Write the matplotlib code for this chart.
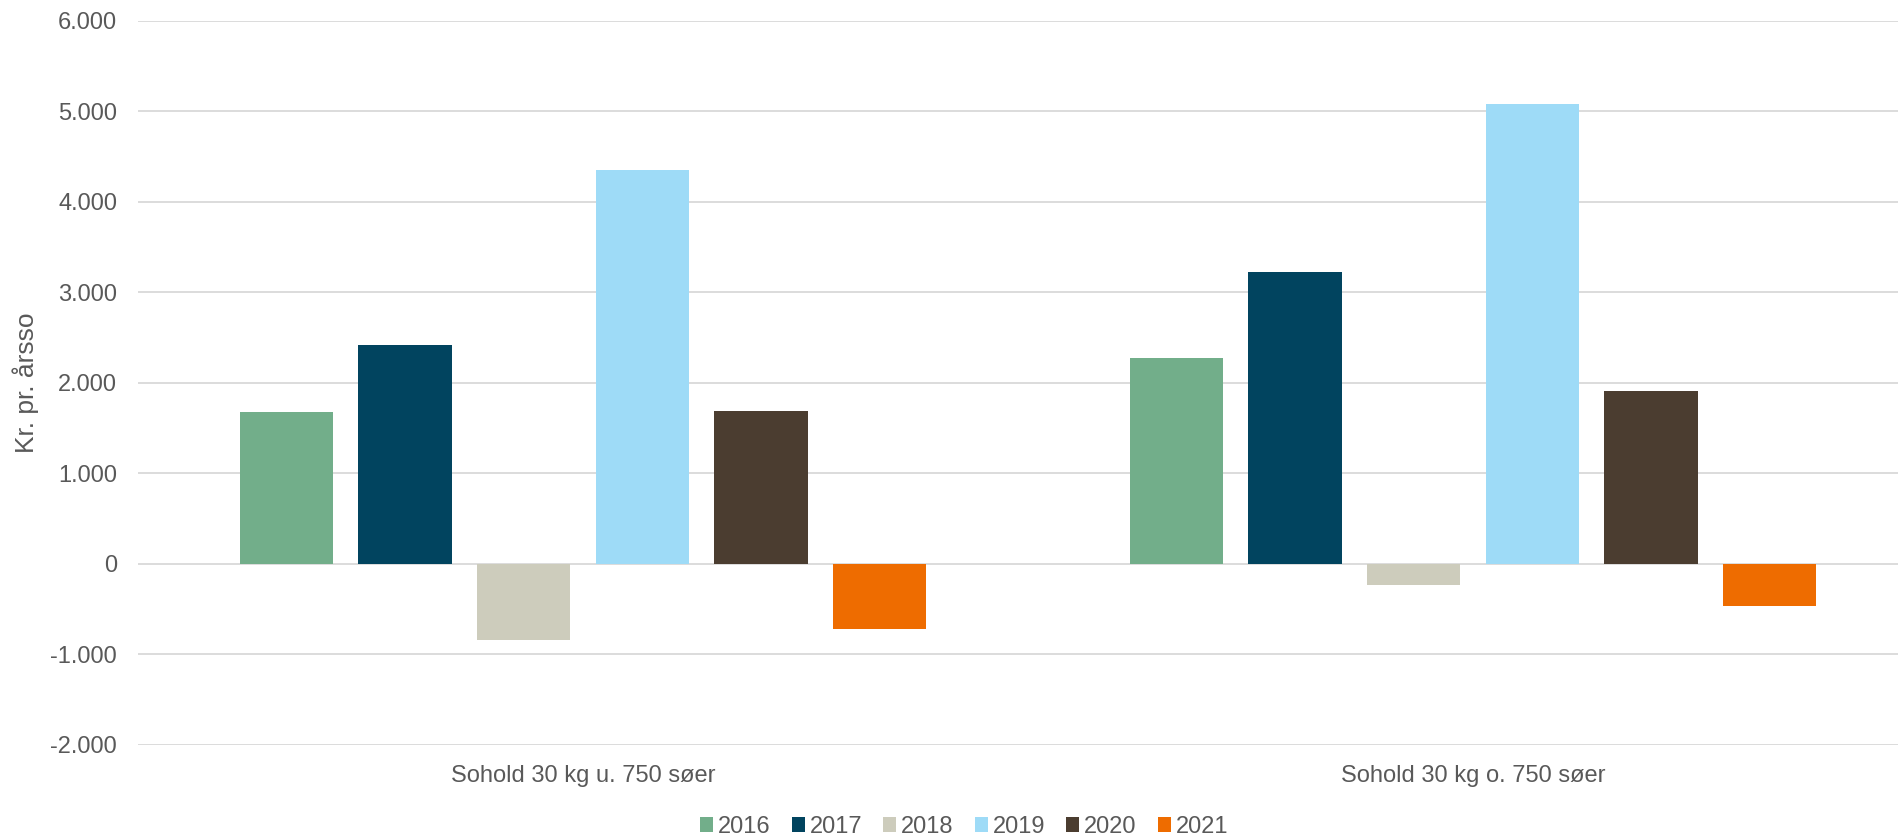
import numpy as np
import matplotlib
matplotlib.use('Agg')
import matplotlib.pyplot as plt
from matplotlib.ticker import FuncFormatter

plt.rcParams['font.family'] = ['Liberation Sans', 'DejaVu Sans']

# data
kategorier = ['Sohold 30 kg u. 750 søer', 'Sohold 30 kg o. 750 søer']
aar = ['2016', '2017', '2018', '2019', '2020', '2021']
v2016 = [1670, 2270]
v2017 = [2410, 3225]
v2018 = [-845, -240]
v2019 = [4345, 5080]
v2020 = [1690, 1910]
v2021 = [-725, -465]
serier = [v2016, v2017, v2018, v2019, v2020, v2021]
farver = ['#72AE8A', '#01445F', '#CDCCBC', '#9EDBF7', '#4B3D30', '#EE6C00']

tekstfarve = '#595959'

fig = plt.figure(figsize=(18.98, 8.36), dpi=100)
# plot area runs a bit past the right edge, as in the original
ax = fig.add_axes([138 / 1898, 1 - 744.5 / 836, 1780 / 1898, (744.5 - 20.6) / 836])

pos = np.arange(len(kategorier))
trin = 0.1333
bredde = 0.1047
for i, (navn, vaerdier, farve) in enumerate(zip(aar, serier, farver)):
    ax.bar(pos + (i - 2.5) * trin, vaerdier, bredde, color=farve, label=navn, zorder=3)

ax.set_xlim(-0.5, 1.5)
ax.set_ylim(-2000, 6000)
ax.set_yticks(np.arange(-2000, 6001, 1000))
ax.yaxis.set_major_formatter(FuncFormatter(lambda v, p: f'{int(v):,}'.replace(',', '.')))
ax.set_xticks(pos)
ax.set_xticklabels(kategorier)
ax.grid(axis='y', color='#D9D9D9', linewidth=1.3, zorder=0)
for s in ax.spines.values():
    s.set_visible(False)
ax.tick_params(length=0, colors=tekstfarve, labelsize=17)
ax.tick_params(axis='y', pad=15)
ax.tick_params(axis='x', pad=15)
ax.set_ylabel('Kr. pr. årsso', fontsize=19, color=tekstfarve, labelpad=8)

fig.legend(loc='center', bbox_to_anchor=(0.508, 0.011), ncols=6, frameon=False,
           fontsize=17, handlelength=0.55, handleheight=0.55, handletextpad=0.2,
           columnspacing=0.9, labelcolor=tekstfarve)

fig.savefig('out.png', dpi=100, facecolor='white')
